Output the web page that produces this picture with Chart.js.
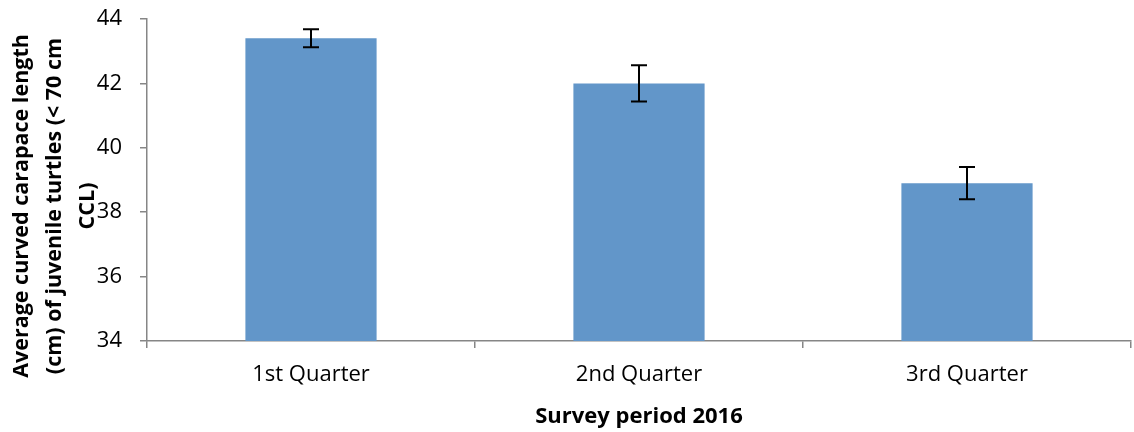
<!DOCTYPE html>
<html>
<head>
<meta charset="utf-8">
<script src="https://cdn.jsdelivr.net/npm/chart.js@4.4.1/dist/chart.umd.min.js"></script>
<style>
    html, body { margin: 0; padding: 0; background: #fff; }
    #wrap { width: 1134px; height: 432px; }
</style>
</head>
<body>
<div id="wrap"><canvas id="chart" width="1134" height="432"></canvas></div>
<script>
// 数据
const categories = ['1st Quarter', '2nd Quarter', '3rd Quarter'];
const meanLength = [43.4, 42.0, 38.9];
const errorSize = [0.28, 0.56, 0.5];
const yTitleLines = ['Average curved carapace length', '(cm) of juvenile turtles (< 70 cm', 'CCL)'];
const xTitle = 'Survey period 2016';

const fontName = '"Open Sans", Lato, sans-serif';
const axisGray = '#868686';

// 误差线
const errorBars = {
    id: 'errorBars',
    afterDatasetsDraw(chart) {
        const ctx = chart.ctx;
        const meta = chart.getDatasetMeta(0);
        const y = chart.scales.y;
        ctx.save();
        ctx.strokeStyle = '#000';
        ctx.lineWidth = 2;
        meta.data.forEach((bar, i) => {
            const top = y.getPixelForValue(meanLength[i] + errorSize[i]);
            const bot = y.getPixelForValue(meanLength[i] - errorSize[i]);
            ctx.beginPath();
            ctx.moveTo(bar.x, top); ctx.lineTo(bar.x, bot);
            ctx.moveTo(bar.x - 8, top); ctx.lineTo(bar.x + 8, top);
            ctx.moveTo(bar.x - 8, bot); ctx.lineTo(bar.x + 8, bot);
            ctx.stroke();
        });
        ctx.restore();
    }
};

// 纵轴标题（三行，旋转）
const yTitle = {
    id: 'yTitle',
    afterDraw(chart) {
        const ctx = chart.ctx;
        ctx.save();
        ctx.translate(0, 206);
        ctx.rotate(-Math.PI / 2);
        ctx.fillStyle = '#000';
        ctx.font = 'bold 21.5px ' + fontName;
        ctx.textAlign = 'center';
        ctx.textBaseline = 'middle';
        yTitleLines.forEach((line, i) => {
            ctx.fillText(line, 0, 22 + i * 33);
        });
        ctx.restore();
    }
};

new Chart(document.getElementById('chart'), {
    type: 'bar',
    data: {
        labels: categories,
        datasets: [{
            data: meanLength,
            backgroundColor: '#6296C9',
            barPercentage: 0.4,
            categoryPercentage: 1.0
        }]
    },
    options: {
        responsive: false,
        animation: false,
        layout: { padding: { top: 19, right: 3, left: 0, bottom: 0 } },
        plugins: {
            legend: { display: false },
            tooltip: { enabled: false }
        },
        scales: {
            x: {
                afterFit: s => { s.height = 91; s.paddingLeft = 0; s.paddingRight = 0; },
                border: { color: axisGray, width: 1.5 },
                grid: { drawOnChartArea: false, color: axisGray, tickLength: 7, lineWidth: 1.5 },
                ticks: { color: '#000', font: { family: fontName, size: 22 }, padding: 14 },
                title: {
                    display: true,
                    text: xTitle,
                    color: '#000',
                    font: { family: fontName, size: 22, weight: 'bold' },
                    padding: { top: 0, bottom: 2 }
                }
            },
            y: {
                min: 34,
                max: 44,
                afterFit: s => { s.width = 147; s.paddingTop = 0; s.paddingBottom = 0; },
                border: { color: axisGray, width: 1.5 },
                grid: { drawOnChartArea: false, color: axisGray, tickLength: 7, lineWidth: 1.5 },
                ticks: { stepSize: 2, color: '#000', font: { family: fontName, size: 22 }, padding: 18 }
            }
        }
    },
    plugins: [errorBars, yTitle]
});
</script>
</body>
</html>
